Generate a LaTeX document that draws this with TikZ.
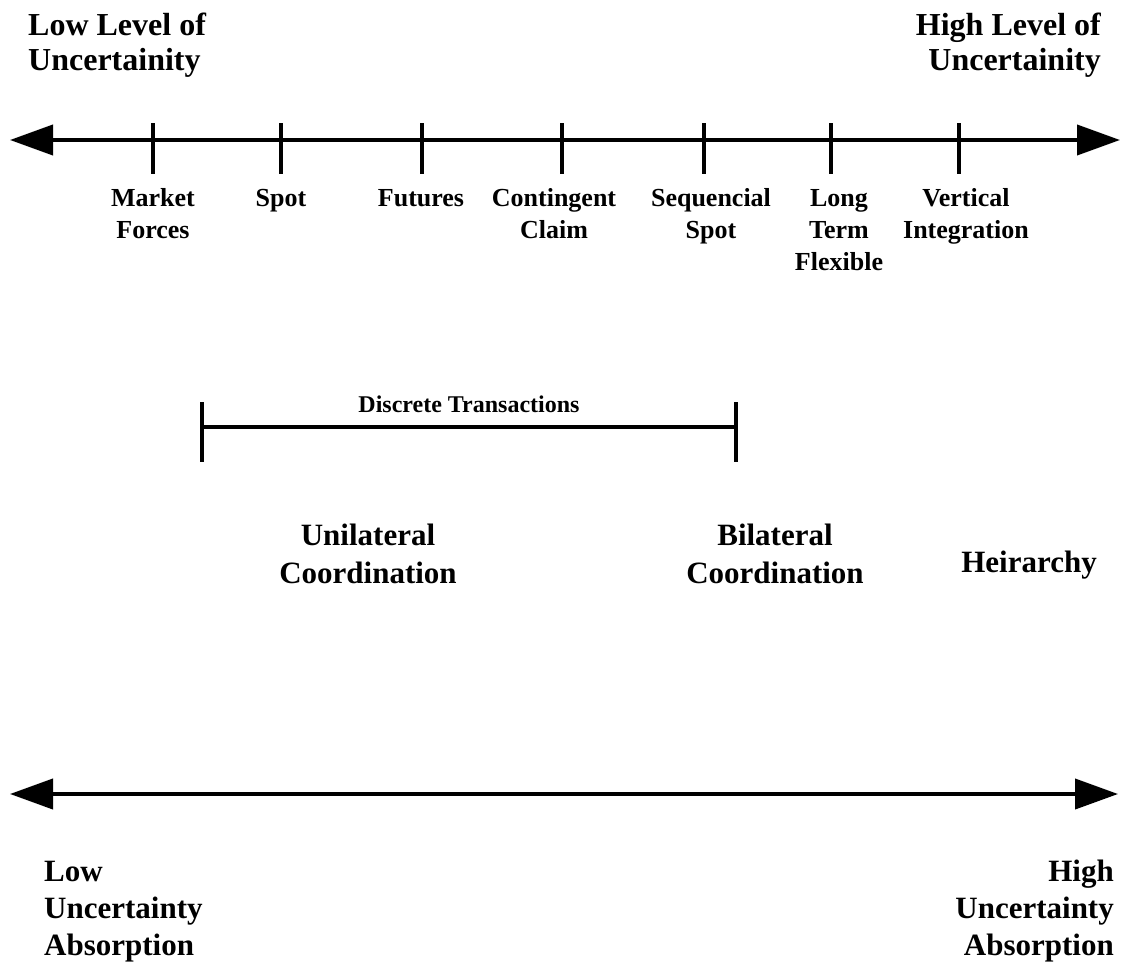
\documentclass[tikz,border=0pt]{standalone}
\usepackage{fontspec}
\setmainfont{Liberation Serif}
\usetikzlibrary{arrows.meta}
\begin{document}
\begin{tikzpicture}[x=1pt,y=-1pt,
  axisline/.style={line width=4pt,{Triangle[length=43pt,width=30pt]}-{Triangle[length=43pt,width=30pt]}},
  tickmark/.style={line width=4.5pt},
  bracketline/.style={line width=3.5pt},
  ticklabel/.style={font=\bfseries\fontsize{26}{32}\selectfont,align=center,anchor=base,inner sep=0pt},
  title/.style={font=\bfseries\fontsize{32}{35}\selectfont,inner sep=0pt},
  midlabel/.style={font=\bfseries\fontsize{31}{38}\selectfont,align=center,anchor=base,inner sep=0pt},
  endlabel/.style={font=\bfseries\fontsize{31}{37}\selectfont,inner sep=0pt},
  spanlabel/.style={font=\bfseries\fontsize{24}{28}\selectfont,anchor=base,inner sep=0pt}]
\useasboundingbox (0,0) rectangle (1125,964);

% uncertainty scale
\coordinate (uL) at (10,140);
\coordinate (uR) at (1120,140);
\draw[axisline] (uL) -- (uR);

% node base = baseline of the last line
\node[title,anchor=base west,align=left] (lowU) at (28,70) {Low Level of\\Uncertainity};
\node[title,anchor=base east,align=right] (highU) at (1101,70) {High Level of\\Uncertainity};

% governance forms along the scale
\foreach \tx/\lx/\ly/\name/\txt in {
  153/153/238/mf/{Market\\Forces},
  281/281/206/sp/{Spot},
  422/421/206/fu/{Futures},
  562/554/238/cc/{Contingent\\Claim},
  704/711/238/ss/{Sequencial\\Spot},
  831/839/270/lt/{Long\\Term\\Flexible},
  959/966/238/vi/{Vertical\\Integration}} {
  \coordinate (\name-top) at (\tx,123);
  \coordinate (\name-bot) at (\tx,174);
  \draw[tickmark] (\name-top) -- (\name-bot);
  \node[ticklabel] (\name-lbl) at (\lx,\ly) {\txt};
}

% discrete transactions span
\coordinate (dL) at (202,427);
\coordinate (dR) at (736,427);
\coordinate (dLt) at (202,402);
\coordinate (dLb) at (202,462);
\coordinate (dRt) at (736,402);
\coordinate (dRb) at (736,462);
\draw[bracketline] (dL) -- (dR);
\draw[bracketline] (dLt) -- (dLb);
\draw[bracketline] (dRt) -- (dRb);
\node[spanlabel] (dt) at (469,412) {Discrete Transactions};

% coordination modes
\node[midlabel] (uni) at (368,583) {Unilateral\\Coordination};
\node[midlabel] (bi) at (775,583) {Bilateral\\Coordination};
\node[midlabel] (hier) at (1029,572) {Heirarchy};

% uncertainty absorption scale
\coordinate (aL) at (10,794);
\coordinate (aR) at (1118,794);
\draw[axisline] (aL) -- (aR);

\node[endlabel,anchor=base west,align=left] (lowA) at (44,955) {Low\\Uncertainty\\Absorption};
\node[endlabel,anchor=base east,align=right] (highA) at (1114,955) {High\\Uncertainty\\Absorption};
\end{tikzpicture}
\end{document}
